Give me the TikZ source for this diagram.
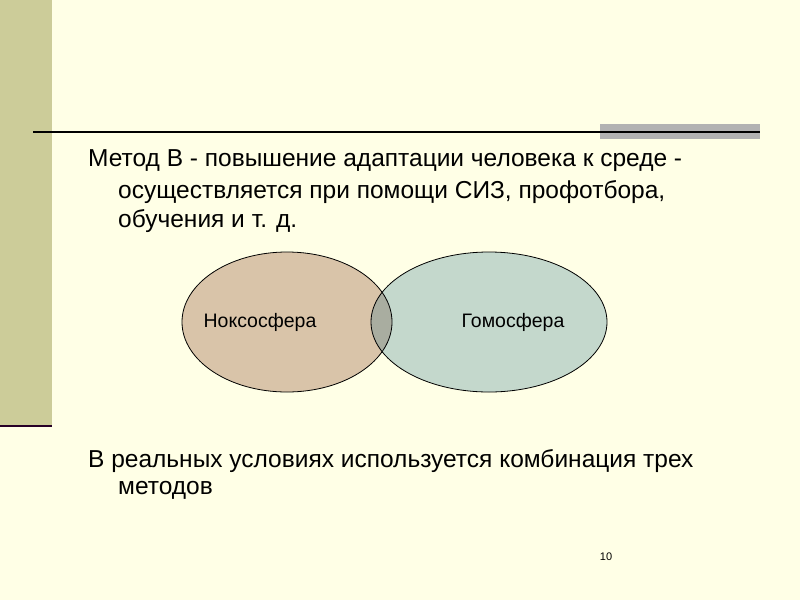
\documentclass[tikz,border=0pt]{standalone}
\usepackage{fontspec}
\setmainfont{Liberation Sans}
\definecolor{bg}{HTML}{FFFFE6}
\definecolor{barc}{HTML}{CCCC99}
\definecolor{lft}{HTML}{D9C4A9}
\definecolor{rgt}{HTML}{C4D8CC}
\definecolor{ovl}{HTML}{A9ADA0}
\tikzset{txt/.style={anchor=west,inner sep=0pt,font=\fontsize{24.5}{28}\selectfont},
 lab/.style={font=\fontsize{19.5}{22}\selectfont},
 ell/.style={draw=black,line width=0.8pt}}
\begin{document}
\begin{tikzpicture}[x=1pt,y=-1pt]
\fill[bg] (0,0) rectangle (800,600);
\useasboundingbox (0,0) rectangle (800,600);
\fill[barc] (0,0) rectangle (52,425);
\draw[line width=2pt,color=black!70!violet] (0,426) -- (52,426);
\fill[gray!60] (600,124) rectangle (760,139);
\draw[line width=1.5pt] (33,132) -- (760,132);
\node[txt] (l1) at (88,161) {Метод В - повышение адаптации человека к среде -};
\node[txt] (l2) at (118,192) {осуществляется при помощи СИЗ, профотбора,};
\node[txt] (l3) at (118,221) {обучения и т. д.};
\fill[lft] (287,322) ellipse [x radius=105,y radius=70];
\fill[rgt] (489,322) ellipse [x radius=118,y radius=70];
\begin{scope}
\clip (287,322) ellipse [x radius=105,y radius=70];
\fill[ovl] (489,322) ellipse [x radius=118,y radius=70];
\end{scope}
\draw[ell] (287,322) ellipse [x radius=105,y radius=70];
\draw[ell] (489,322) ellipse [x radius=118,y radius=70];
\node[lab] (a) at (260,322) {Ноксосфера};
\node[lab] (b) at (513,322) {Гомосфера};
\node[txt] (l4) at (88,461) {В реальных условиях используется комбинация трех};
\node[txt] (l5) at (118,490) {методов};
\node[font=\fontsize{11}{13}\selectfont] (pg) at (606,557) {10};
\end{tikzpicture}
\end{document}
